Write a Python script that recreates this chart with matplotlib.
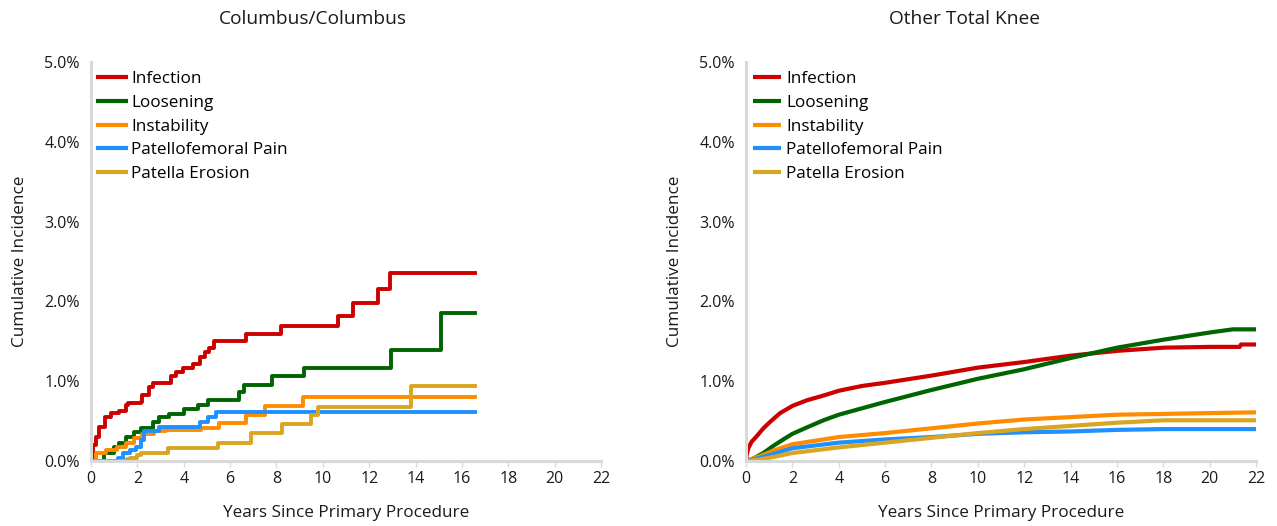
import matplotlib
matplotlib.use("Agg")
import matplotlib.pyplot as plt
from matplotlib.ticker import FuncFormatter

plt.rcParams['font.family'] = ['Open Sans', 'DejaVu Sans']

series_names = ["Infection", "Loosening", "Instability", "Patellofemoral Pain", "Patella Erosion"]
series_colors = ["#cc0000", "#006400", "#ff8c00", "#1e90ff", "#daa520"]

# Left panel: Columbus/Columbus (step functions; years, cumulative %)
col_infection_x = [0, 0.07, 0.2, 0.36, 0.6, 0.86, 1.22, 1.5, 1.6, 2.16, 2.2, 2.52, 2.66, 3.38, 3.45, 3.66, 3.95, 4.38, 4.7, 4.93, 5.1, 5.32, 6.69, 8.2, 10.64, 11.29, 12.4, 12.9, 16.56]
col_infection_y = [0, 0.2, 0.3, 0.43, 0.55, 0.6, 0.63, 0.70, 0.73, 0.74, 0.83, 0.93, 0.98, 0.98, 1.06, 1.12, 1.17, 1.22, 1.30, 1.37, 1.41, 1.50, 1.59, 1.69, 1.82, 1.98, 2.15, 2.35, 2.35]

col_loosening_x = [0, 0.57, 1.0, 1.2, 1.5, 1.87, 2.16, 2.66, 2.95, 3.38, 4.03, 4.6, 5.03, 6.4, 6.62, 7.81, 9.2, 12.94, 15.1, 16.56]
col_loosening_y = [0, 0.10, 0.18, 0.23, 0.30, 0.36, 0.41, 0.49, 0.55, 0.59, 0.65, 0.70, 0.77, 0.86, 0.95, 1.06, 1.17, 1.39, 1.86, 1.86]

col_instability_x = [0, 0.22, 0.65, 1.1, 1.5, 1.87, 2.2, 2.7, 3.25, 4.76, 5.5, 6.69, 7.5, 9.15, 16.56]
col_instability_y = [0, 0.10, 0.14, 0.18, 0.23, 0.29, 0.34, 0.37, 0.39, 0.41, 0.48, 0.58, 0.69, 0.80, 0.80]

col_pfpain_x = [0, 1.15, 1.4, 1.68, 1.95, 2.16, 2.3, 2.95, 4.7, 5.03, 5.4, 16.56]
col_pfpain_y = [0, 0.04, 0.10, 0.14, 0.18, 0.26, 0.37, 0.43, 0.49, 0.55, 0.62, 0.62]

col_erosion_x = [0, 1.54, 1.68, 2.0, 2.16, 3.31, 5.47, 6.9, 8.24, 9.49, 9.78, 13.8, 16.56]
col_erosion_y = [0, 0.02, 0.04, 0.08, 0.10, 0.16, 0.23, 0.35, 0.46, 0.58, 0.68, 0.94, 0.94]

# Right panel: Other Total Knee (years, cumulative %)
oth_infection_x = [0, 0.03, 0.1, 0.24, 0.46, 0.75, 1.04, 1.47, 2, 2.62, 3.34, 4, 5, 6, 8, 10, 12, 14, 16, 18, 20, 21.3, 21.35, 22]
oth_infection_y = [0, 0.08, 0.16, 0.24, 0.31, 0.41, 0.49, 0.60, 0.69, 0.76, 0.82, 0.88, 0.94, 0.98, 1.07, 1.17, 1.24, 1.32, 1.38, 1.42, 1.43, 1.43, 1.46, 1.46]

oth_loosening_x = [0, 0.32, 0.75, 1.18, 1.61, 2, 2.62, 3.34, 4, 5, 6, 8, 10, 12, 14, 16, 18, 20, 21, 22]
oth_loosening_y = [0, 0.03, 0.10, 0.19, 0.27, 0.34, 0.42, 0.51, 0.58, 0.66, 0.74, 0.89, 1.03, 1.15, 1.29, 1.42, 1.52, 1.61, 1.65, 1.65]

oth_instability_x = [0, 0.6, 1.18, 2, 3.34, 4, 6, 8, 10, 12, 14, 16, 18, 20, 22]
oth_instability_y = [0, 0.06, 0.13, 0.21, 0.27, 0.30, 0.35, 0.41, 0.47, 0.52, 0.55, 0.58, 0.59, 0.60, 0.61]

oth_pfpain_x = [0, 0.6, 1.18, 2, 4, 6, 8, 10, 12, 14, 16, 18, 20, 22]
oth_pfpain_y = [0, 0.04, 0.09, 0.16, 0.23, 0.27, 0.30, 0.34, 0.36, 0.37, 0.39, 0.40, 0.40, 0.40]

oth_erosion_x = [0, 0.6, 1.18, 2, 4, 6, 8, 10, 12, 14, 16, 18, 20, 22]
oth_erosion_y = [0, 0.02, 0.05, 0.10, 0.17, 0.23, 0.29, 0.35, 0.40, 0.44, 0.48, 0.51, 0.51, 0.51]

x_ticks = list(range(0, 23, 2))
y_ticks = [0, 1, 2, 3, 4, 5]

fig = plt.figure(figsize=(12.77, 5.26), dpi=100)
ax1 = fig.add_axes([91/1277, 65/526, 510/1277, 399/526])
ax2 = fig.add_axes([746/1277, 65/526, 510/1277, 399/526])

left_data = [(col_infection_x, col_infection_y), (col_loosening_x, col_loosening_y),
             (col_instability_x, col_instability_y), (col_pfpain_x, col_pfpain_y),
             (col_erosion_x, col_erosion_y)]
right_data = [(oth_infection_x, oth_infection_y), (oth_loosening_x, oth_loosening_y),
              (oth_instability_x, oth_instability_y), (oth_pfpain_x, oth_pfpain_y),
              (oth_erosion_x, oth_erosion_y)]

txt = '#1a1a1a'
for ax, data, title, step, tx in [(ax1, left_data, "Columbus/Columbus", True, 0.435),
                                  (ax2, right_data, "Other Total Knee", False, 0.429)]:
    for (xs, ys), name, c in zip(data, series_names, series_colors):
        if step:
            ax.step(xs, ys, where='post', color=c, lw=2.8, label=name)
        else:
            ax.plot(xs, ys, color=c, lw=3.0, label=name, solid_capstyle='butt')
    ax.set_xlim(0, 22)
    ax.set_ylim(0, 5)
    ax.set_xticks(x_ticks)
    ax.set_yticks(y_ticks)
    ax.yaxis.set_major_formatter(FuncFormatter(lambda v, p: f"{v:.1f}%"))
    for s in ['top', 'right']:
        ax.spines[s].set_visible(False)
    for s in ['left', 'bottom']:
        ax.spines[s].set_color('#d9d9d9')
        ax.spines[s].set_linewidth(2.2)
    ax.tick_params(axis='x', colors='#d9d9d9', labelcolor=txt, labelsize=11.5, length=4, width=1, pad=3)
    ax.tick_params(axis='y', colors='#d9d9d9', labelcolor=txt, labelsize=11.5, length=0, pad=8)
    ax.set_title(title, fontsize=13.8, pad=27, color=txt, x=tx)
    ax.set_xlabel("Years Since Primary Procedure", fontsize=12.3, color=txt, labelpad=13)
    ax.set_ylabel("Cumulative Incidence", fontsize=12.3, color=txt, labelpad=12)
    leg = ax.legend(loc='upper left', bbox_to_anchor=(0.0, 0.994), frameon=False, fontsize=12.3,
                    handlelength=1.65, handletextpad=0.3, labelspacing=0.45, borderaxespad=0.0)
    for h in leg.get_lines():
        h.set_linewidth(3)

fig.savefig("out.png", dpi=100)
